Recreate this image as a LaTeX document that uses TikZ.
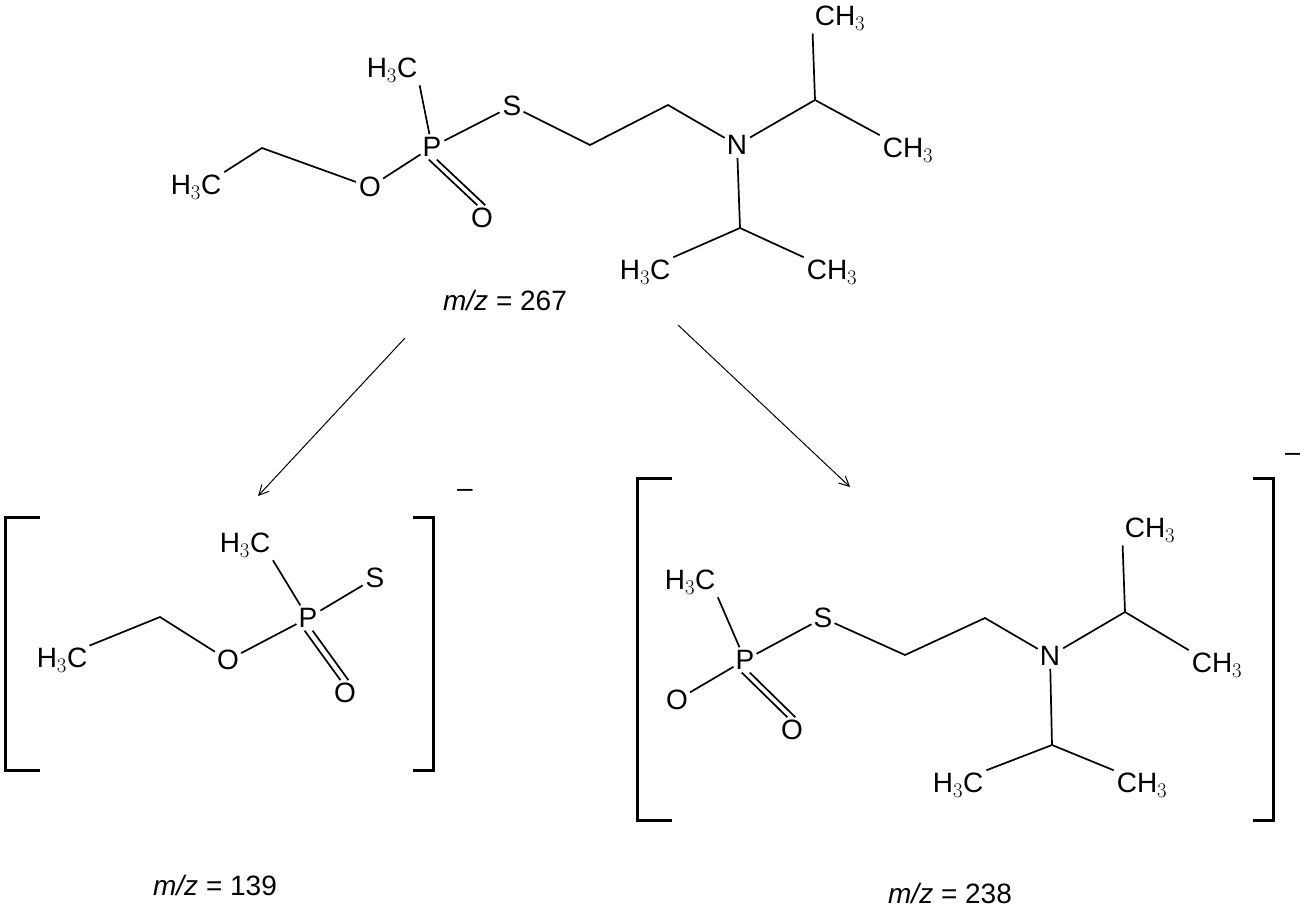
\documentclass[tikz,border=0pt]{standalone}
\usepackage{fontspec}
\setmainfont{Liberation Sans}
\usetikzlibrary{arrows.meta}
\begin{document}
\begin{tikzpicture}[x=1pt,y=-1pt,
 atm/.style={font=\fontsize{28}{30}\selectfont,inner sep=2pt},
 bd/.style={line width=1.7pt,shorten <=1pt,shorten >=1pt},
 ar/.style={line width=1pt,-{Straight Barb[length=10pt,width=10pt]}},
 br/.style={line width=3pt},
 lb/.style={font=\fontsize{28}{30}\selectfont}]
\useasboundingbox (0,0) rectangle (1300,911);
% top molecule
\node[atm] (a1) at (196,187) {H$_3$C};
\coordinate (a2) at (262,148);
\node[atm] (a3) at (370,187) {O};
\node[atm] (a4) at (432,147) {P};
\node[atm] (a5) at (392,70) {H$_3$C};
\node[atm] (a6) at (512,106) {S};
\node[atm] (a7) at (482,218) {O};
\coordinate (a8) at (590,145);
\coordinate (a9) at (668,105);
\node[atm] (a10) at (737,145) {N};
\coordinate (a11) at (815,100);
\node[atm] (a12) at (840,18) {CH$_3$};
\node[atm] (a13) at (908,150) {CH$_3$};
\coordinate (a14) at (740,228);
\node[atm] (a15) at (645,272) {H$_3$C};
\node[atm] (a16) at (832,272) {CH$_3$};
\draw[bd] (a1.north east) -- (a2) -- (a3);
\draw[bd] (a3) -- (a4) -- (a6);
\draw[bd] (a4) -- (a5.south east);
\draw[bd] ([xshift=-4pt]a4.south) -- ([xshift=-4pt]a7.north);
\draw[bd] ([xshift=4pt]a4.south) -- ([xshift=4pt]a7.north);
\draw[bd] (a6) -- (a8) -- (a9) -- (a10) -- (a11) -- (a12.south west);
\draw[bd] (a11) -- (a13.north west);
\draw[bd] (a10) -- (a14) -- (a15.north east);
\draw[bd] (a14) -- (a16.north west);
\node[lb] (mz1) at (505,300) {\textit{m/z} = 267};
\coordinate (s1) at (405,338); \coordinate (e1) at (258,496);
\coordinate (s2) at (678,325); \coordinate (e2) at (850,487);
\draw[ar] (s1) -- (e1);
\draw[ar] (s2) -- (e2);
% bottom left
\draw[br] (40,517) -- (5,517) -- (5,770) -- (40,770);
\draw[br] (413,517) -- (433,517) -- (433,770) -- (413,770);
\node[lb] (m1) at (465,493) {--};
\node[atm] (b1) at (62,660) {H$_3$C};
\coordinate (b2) at (160,617);
\node[atm] (b3) at (228,660) {O};
\node[atm] (b4) at (308,618) {P};
\node[atm] (b5) at (245,545) {H$_3$C};
\node[atm] (b6) at (375,578) {S};
\node[atm] (b7) at (345,693) {O};
\draw[bd] (b1.north east) -- (b2) -- (b3) -- (b4) -- (b6);
\draw[bd] (b4) -- (b5.south east);
\draw[bd] ([xshift=-4pt]b4.south) -- ([xshift=-4pt]b7.north);
\draw[bd] ([xshift=4pt]b4.south) -- ([xshift=4pt]b7.north);
\node[lb] (mz2) at (215,885) {\textit{m/z} = 139};
% bottom right
\draw[br] (672,478) -- (637,478) -- (637,820) -- (672,820);
\draw[br] (1253,478) -- (1273,478) -- (1273,820) -- (1253,820);
\node[lb] (m2) at (1293,457) {--};
\node[atm] (c1) at (677,700) {O};
\node[atm] (c2) at (745,660) {P};
\node[atm] (c3) at (690,582) {H$_3$C};
\node[atm] (c4) at (823,618) {S};
\node[atm] (c5) at (792,730) {O};
\coordinate (c6) at (905,655);
\coordinate (c7) at (985,618);
\node[atm] (c8) at (1050,656) {N};
\coordinate (c9) at (1125,612);
\node[atm] (c10) at (1150,530) {CH$_3$};
\node[atm] (c11) at (1217,665) {CH$_3$};
\coordinate (c12) at (1052,745);
\node[atm] (c13) at (958,785) {H$_3$C};
\node[atm] (c14) at (1142,785) {CH$_3$};
\draw[bd] (c1) -- (c2) -- (c4) -- (c6) -- (c7) -- (c8) -- (c9) -- (c10.south west);
\draw[bd] (c2) -- (c3.south east);
\draw[bd] ([xshift=-4pt]c2.south) -- ([xshift=-4pt]c5.north);
\draw[bd] ([xshift=4pt]c2.south) -- ([xshift=4pt]c5.north);
\draw[bd] (c9) -- (c11.north west);
\draw[bd] (c8) -- (c12) -- (c13.north east);
\draw[bd] (c12) -- (c14.north west);
\node[lb] (mz3) at (950,893) {\textit{m/z} = 238};
\end{tikzpicture}
\end{document}
